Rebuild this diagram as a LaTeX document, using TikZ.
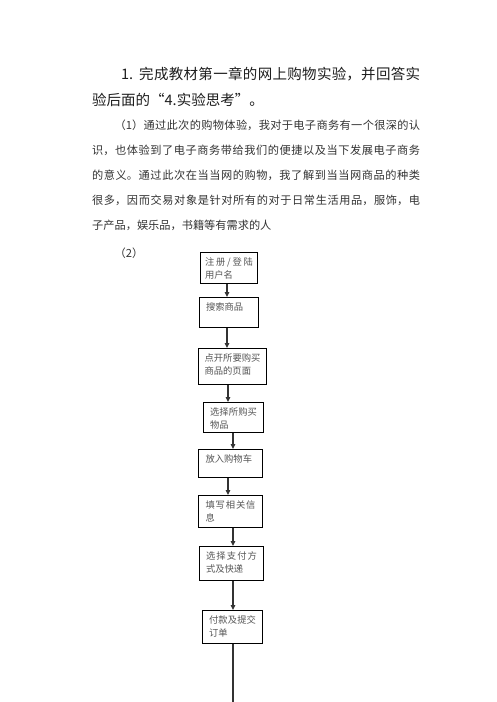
\documentclass[tikz,border=0pt]{standalone}
\usepackage{fontspec}
\setmainfont{Noto Sans CJK SC}
\usetikzlibrary{arrows.meta}
\XeTeXlinebreaklocale "zh"
\XeTeXlinebreakskip=0pt plus 1pt
\tolerance=9999
\hbadness=10000
\definecolor{titleink}{HTML}{1E1E1E}
\definecolor{bodyink}{HTML}{333333}
\definecolor{boxink}{HTML}{555555}
\definecolor{lineink}{HTML}{333333}
\begin{document}
\begin{tikzpicture}[x=1pt,y=-1pt,
  flowbox/.style={draw=black, line width=1.1pt, anchor=north west, inner ysep=0pt,
    align=justify, text height=13pt, font=\fontsize{9.3}{13}\selectfont, text=boxink},
  arr/.style={draw=lineink, line width=1.2pt, -{Triangle[length=5pt,width=4.5pt]}},
  plainline/.style={draw=lineink, line width=1.2pt}]
\fill[white] (0,0) rectangle (496,702);
\useasboundingbox (0,0) rectangle (496,702);

% text
\node[anchor=base west, inner sep=0pt, text width=328pt, align=justify,
  font=\fontsize{14.5}{26}\selectfont, text=titleink] (title) at (92,79.5)
  {\hspace*{2em}1. 完成教材第一章的网上购物实验，并回答实\linebreak 验后面的“4.实验思考”。};
\node[anchor=base west, inner sep=0pt, text width=328pt, align=justify,
  font=\fontsize{11.2}{25}\selectfont, text=bodyink] (para) at (92,129.3)
  {\hspace*{2em}（1）通过此次的购物体验，我对于电子商务有一个很深的认\linebreak
  识，也体验到了电子商务带给我们的便捷以及当下发展电子商务\linebreak
  的意义。通过此次在当当网的购物，我了解到当当网商品的种类\linebreak
  很多，因而交易对象是针对所有的对于日常生活用品，服饰，电\linebreak
  子产品，娱乐品，书籍等有需求的人};
\node[anchor=base west, inner sep=0pt, font=\fontsize{11.2}{25}\selectfont, text=bodyink]
  (p2) at (114.4,257.3) {（2）};

% flow boxes
\node[flowbox, text width=48pt, inner xsep=4.5pt, text depth=18pt] (b1) at (200,252) {注册\hspace{0pt plus 1pt}/登陆\linebreak 用户名};
\node[flowbox, text width=46pt, inner xsep=6.5pt, text depth=17pt] (b2) at (199,297) {搜索商品};
\node[flowbox, text width=56pt, inner xsep=6pt, text depth=23pt] (b3) at (198,348) {点开所要购买\linebreak 商品的页面};
\node[flowbox, text width=47pt, inner xsep=6.5pt, text depth=17pt] (b4) at (203,402) {选择所购买\linebreak 物品};
\node[flowbox, text width=50pt, inner xsep=7pt, text depth=15pt] (b5) at (198,449) {放入购物车};
\node[flowbox, text width=50pt, inner xsep=7pt, text depth=19pt] (b6) at (198,495) {填写相关信\linebreak 息};
\node[flowbox, text width=51pt, inner xsep=6.5pt, text depth=21pt] (b7) at (199,546) {选择支付方\linebreak 式及快递};
\node[flowbox, text width=47pt, inner xsep=6.5pt, text depth=20pt] (b8) at (202,610) {付款及提交\linebreak 订单};

% connectors
\coordinate (xa) at (227,0);
\coordinate (xb) at (228,0);
\coordinate (xc) at (233,0);
\coordinate (bottomend) at (233,702);
\draw[arr] (b1.south -| xa) -- (b2.north -| xa);
\draw[arr] (b2.south -| xa) -- (b3.north -| xa);
\draw[arr] (b3.south -| xb) -- (b4.north -| xb);
\draw[arr] (b4.south -| xc) -- (b5.north -| xc);
\draw[arr] (b5.south -| xb) -- (b6.north -| xb);
\draw[arr] (b6.south -| xc) -- (b7.north -| xc);
\draw[arr] (b7.south -| xc) -- (b8.north -| xc);
\draw[plainline] (b8.south -| xc) -- (bottomend);
\end{tikzpicture}
\end{document}
